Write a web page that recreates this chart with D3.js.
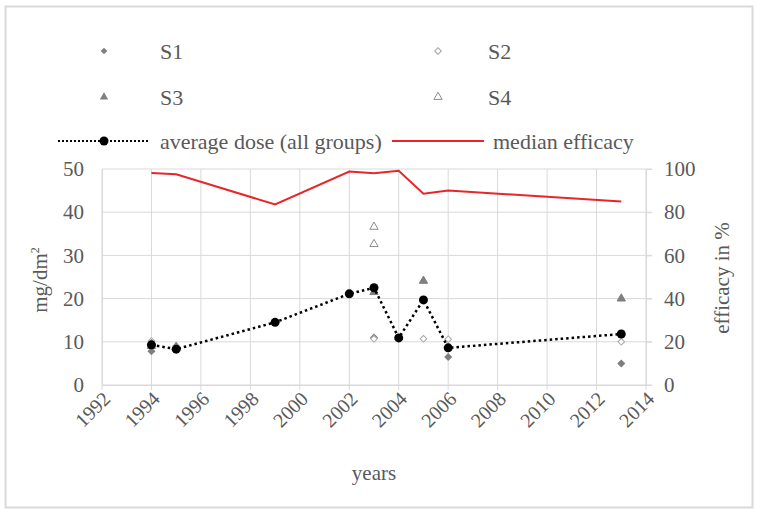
<!DOCTYPE html>
<html><head><meta charset="utf-8">
<script src="https://cdn.jsdelivr.net/npm/d3@7"></script>
<style>body{margin:0;background:#fff}svg{display:block}</style>
</head><body>
<svg id="c" width="759" height="514"></svg>
<script>
// ---- data ----
const yearTicks = [1992,1994,1996,1998,2000,2002,2004,2006,2008,2010,2012,2014];
const doseTicks = [0,10,20,30,40,50];
const effTicks = [0,20,40,60,80,100];
const s1 = [[1994,7.8],[1995,8.4],[2003,11],[2006,6.5],[2013,5.0]];
const s2 = [[1994,10.2],[1995,9.0],[2003,10.7],[2005,10.7],[2006,10.6],[2013,10.0]];
const s3 = [[1994,9.0],[1995,8.8],[2003,21.5],[2005,24.1],[2013,20.0]];
const s4 = [[1994,9.5],[2003,36.6],[2003,32.6]];
const avgYears = [1994,1995,1999,2002,2003,2004,2005,2006,2013];
const avgDose = [9.3,8.3,14.5,21.1,22.5,10.9,19.7,8.6,11.8];
const effYears = [1994,1995,1999,2002,2003,2004,2005,2006,2013];
const medianEff = [98.1,97.6,83.6,98.8,98.0,99.2,88.6,90.0,85.0];

const FONT = '"Liberation Serif","DejaVu Serif","Times New Roman",serif';
const svg = d3.select("#c");
const L=102,R=646,T=169,B=385;
const x = d3.scaleLinear().domain([1992,2014]).range([L,R]);
const y = d3.scaleLinear().domain([0,50]).range([B,T]);
const y2 = d3.scaleLinear().domain([0,100]).range([B,T]);
const grid="#d9d9d9", txt="#595959";

// outer border
svg.append("rect").attr("x",5.5).attr("y",6.5).attr("width",747).attr("height",501)
  .attr("fill","none").attr("stroke","#d9d9d9").attr("stroke-width",2);

// gridlines
svg.append("g").selectAll("line").data(doseTicks).join("line")
  .attr("x1",L).attr("x2",R+6).attr("y1",d=>y(d)).attr("y2",d=>y(d))
  .attr("stroke",grid).attr("stroke-width",1);
svg.append("g").selectAll("line").data(yearTicks).join("line")
  .attr("x1",d=>x(d)).attr("x2",d=>x(d)).attr("y1",T).attr("y2",B+5)
  .attr("stroke",grid).attr("stroke-width",1);

// axes via d3
const xAxis = svg.append("g").attr("transform",`translate(0,${B})`)
  .call(d3.axisBottom(x).tickValues(yearTicks).tickFormat(d3.format("d")).tickSize(0));
xAxis.attr("font-family",null);
xAxis.select(".domain").attr("stroke",grid);
xAxis.selectAll("text").attr("fill",txt).style("font-size","20px").style("font-family",FONT)
  .attr("text-anchor","end").attr("dx",0).attr("dy",0)
  .attr("transform",d=>`translate(7,13) rotate(-45)`);

const yAxis = svg.append("g").attr("transform",`translate(${L},0)`)
  .call(d3.axisLeft(y).tickValues(doseTicks).tickSize(0).tickPadding(18));
yAxis.select(".domain").attr("stroke",grid);
yAxis.selectAll("text").attr("fill",txt).style("font-size","21px").style("font-family",FONT);

const y2Axis = svg.append("g").attr("transform",`translate(${R},0)`)
  .call(d3.axisRight(y2).tickValues(effTicks).tickSize(6).tickPadding(12));
y2Axis.select(".domain").attr("stroke",grid);
y2Axis.selectAll("line").attr("stroke",grid);
y2Axis.selectAll("text").attr("fill",txt).style("font-size","21px").style("font-family",FONT);

// axis titles
const title = (s)=>s.attr("text-anchor","middle").attr("fill",txt)
  .style("font-size","21px").style("font-family",FONT);
svg.append("text").attr("transform",`translate(47,280) rotate(-90)`).call(title)
  .html('mg/dm<tspan dy="-8" font-size="12px">2</tspan>');
svg.append("text").attr("transform",`translate(729,278) rotate(-90)`).call(title).text("efficacy in %");
svg.append("text").attr("x",374).attr("y",480).call(title).text("years");

// median efficacy line
const effData = effYears.map((d,i)=>[d,medianEff[i]]);
svg.append("path").datum(effData)
  .attr("d",d3.line().x(d=>x(d[0])).y(d=>y2(d[1])))
  .attr("fill","none").attr("stroke","#e8262a").attr("stroke-width",2);

// scatter series
const diamond = d3.symbol().type(d3.symbolSquare).size(22);
const tri = d3.symbol().type(d3.symbolTriangle).size(30);
function scatter(data,sym,rot,fill,stroke){
  svg.append("g").selectAll("path").data(data).join("path")
    .attr("transform",d=>`translate(${x(d[0])},${y(d[1])}) rotate(${rot})`)
    .attr("d",sym).attr("fill",fill).attr("stroke",stroke).attr("stroke-width",1);
}
scatter(s1,diamond,45,"#7f7f7f","#7f7f7f");
scatter(s2,diamond,45,"#fff","#a6a6a6");
scatter(s3,tri,0,"#7f7f7f","#7f7f7f");
scatter(s4,tri,0,"#fff","#8c8c8c");

// average dose
const avgData = avgYears.map((d,i)=>[d,avgDose[i]]);
svg.append("path").datum(avgData)
  .attr("d",d3.line().x(d=>x(d[0])).y(d=>y(d[1])))
  .attr("fill","none").attr("stroke","#000").attr("stroke-width",2.5)
  .attr("stroke-dasharray","2.5,3");
svg.append("g").selectAll("circle").data(avgData).join("circle")
  .attr("cx",d=>x(d[0])).attr("cy",d=>y(d[1])).attr("r",4.5).attr("fill","#000");

// legend
const lg = svg.append("g");
const legText = (tx,ty,s)=>lg.append("text").attr("x",tx).attr("y",ty).attr("dy","0.35em")
  .attr("fill",txt).style("font-size","22px").style("font-family",FONT).text(s);
lg.append("path").attr("transform","translate(104,51) rotate(45)").attr("d",diamond).attr("fill","#7f7f7f");
legText(160,51,"S1");
lg.append("path").attr("transform","translate(438,51) rotate(45)").attr("d",diamond).attr("fill","#fff").attr("stroke","#a6a6a6");
legText(488,51,"S2");
lg.append("path").attr("transform","translate(104,97)").attr("d",tri).attr("fill","#7f7f7f");
legText(160,97,"S3");
lg.append("path").attr("transform","translate(438,97)").attr("d",tri).attr("fill","#fff").attr("stroke","#8c8c8c");
legText(488,97,"S4");
lg.append("line").attr("x1",58).attr("x2",150).attr("y1",141).attr("y2",141)
  .attr("stroke","#000").attr("stroke-width",2).attr("stroke-dasharray","2,2");
lg.append("circle").attr("cx",104).attr("cy",141).attr("r",4.5).attr("fill","#000");
legText(160,141,"average dose (all groups)");
lg.append("line").attr("x1",392).attr("x2",484).attr("y1",141).attr("y2",141)
  .attr("stroke","#e8262a").attr("stroke-width",2);
legText(493,141,"median efficacy");
</script>
</body></html>
